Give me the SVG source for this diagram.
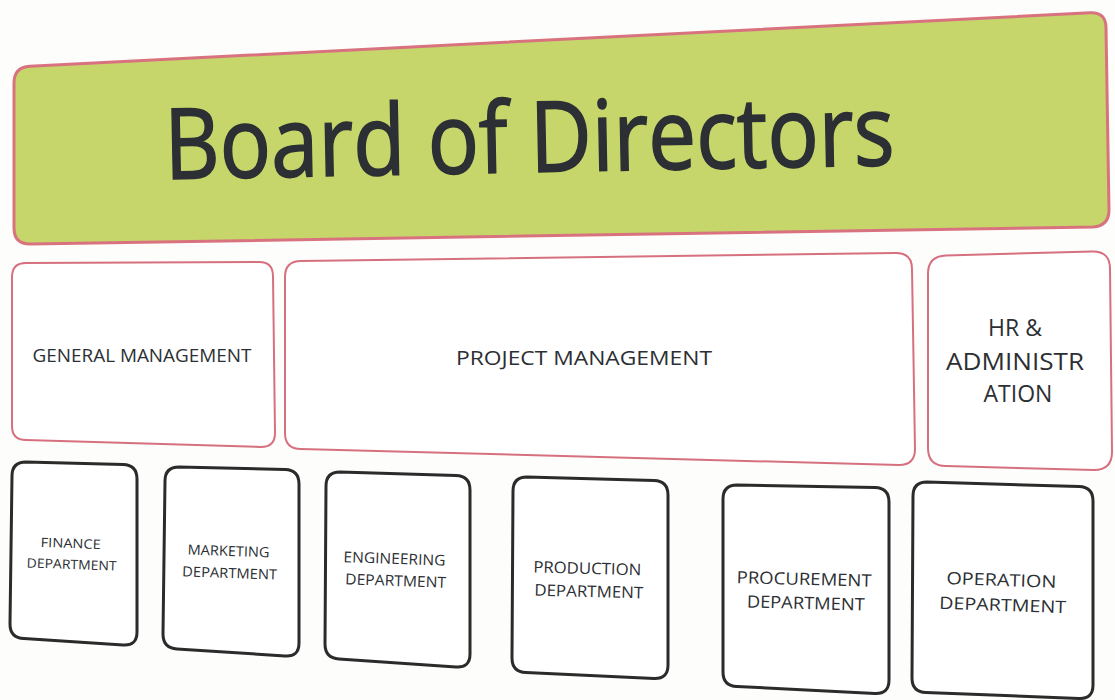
<svg xmlns="http://www.w3.org/2000/svg" width="1115" height="700" viewBox="0 0 1115 700">
<defs>
<style>
.bg{fill:#fdfdfc}
.board{fill:#c6d66b;stroke:#d9727f;stroke-width:3}
.mgmt{fill:#ffffff;stroke:#d7707e;stroke-width:2}
.dept{fill:#ffffff;stroke:#2b2b2b;stroke-width:3}
.t{font-family:"Open Sans","Liberation Sans",sans-serif;fill:#2c2f33;text-anchor:middle}
.title{stroke:#2c2f33;stroke-width:1.6}
</style>
</defs>
<rect class="bg" x="0" y="0" width="1115" height="700"/>
<g id="board">
<path class="board" d="M30,66.2 L1090,12.8 Q1106,12 1106,28 L1109,210 Q1109,226 1093,227 L30,244 Q14,244 14,228 L14,83 Q14,67 30,66.2 Z"/>
<text class="t title" x="530" y="172" font-size="98" textLength="730" lengthAdjust="spacingAndGlyphs" transform="rotate(-1.1 530 172)">Board of Directors</text>
</g>
<g id="general-management">
<path class="mgmt" d="M26,263 L259,262 Q273,262 273,276 L275,433 Q275,447 261,447 L26,440 Q12,440 12,426 L12,277 Q12,263 26,263 Z"/>
<text class="t" x="142" y="362" font-size="18" textLength="219" lengthAdjust="spacingAndGlyphs">GENERAL MANAGEMENT</text>
</g>
<g id="project-management">
<path class="mgmt" d="M301,261 L896,253 Q912,253 912,269 L915,449 Q915,465 899,465 L301,449 Q285,449 285,433 L285,277 Q285,261 301,261 Z"/>
<text class="t" x="584" y="365" font-size="20" textLength="256" lengthAdjust="spacingAndGlyphs">PROJECT MANAGEMENT</text>
</g>
<g id="hr-administration">
<path class="mgmt" d="M946,255.5 L1092,251.5 Q1110,251 1110,269 L1112,452 Q1112,470 1094,470 L946,466 Q928,466 928,448 L928,274 Q928,256 946,255.5 Z"/>
<text class="t" font-size="23">
<tspan x="1018" y="336">HR &amp;</tspan>
<tspan x="1018" y="370" textLength="138" lengthAdjust="spacingAndGlyphs">ADMINISTR</tspan>
<tspan x="1018" y="402">ATION</tspan>
</text>
</g>
<g id="finance">
<path class="dept" d="M26,462 L123,464.5 Q137,465 137,479 L137,632 Q137,646 123,645 L24,638.5 Q10,638 10,624 L12,476 Q12,462 26,462 Z"/>
<text class="t" font-size="13" transform="rotate(2 72 556)">
<tspan x="72" y="548" textLength="60" lengthAdjust="spacingAndGlyphs">FINANCE</tspan>
<tspan x="72" y="569" textLength="90" lengthAdjust="spacingAndGlyphs">DEPARTMENT</tspan>
</text>
</g>
<g id="marketing">
<path class="dept" d="M179,467 L285,469.5 Q299,470 299,484 L299,643 Q299,657 285,656 L177,649 Q163,648 163,634 L165,481 Q165,467 179,467 Z"/>
<text class="t" font-size="14" transform="rotate(2 230 564)">
<tspan x="230" y="556" textLength="82" lengthAdjust="spacingAndGlyphs">MARKETING</tspan>
<tspan x="230" y="578" textLength="95" lengthAdjust="spacingAndGlyphs">DEPARTMENT</tspan>
</text>
</g>
<g id="engineering">
<path class="dept" d="M340,472 L456,475.5 Q470,476 470,490 L470,654 Q470,668 456,667 L339,659 Q325,658 325,644 L326,486 Q326,472 340,472 Z"/>
<text class="t" font-size="15" transform="rotate(2 396 572)">
<tspan x="396" y="564" textLength="102" lengthAdjust="spacingAndGlyphs">ENGINEERING</tspan>
<tspan x="396" y="586" textLength="101" lengthAdjust="spacingAndGlyphs">DEPARTMENT</tspan>
</text>
</g>
<g id="production">
<path class="dept" d="M527,477 L654,480.5 Q668,481 668,495 L668,665 Q668,679 654,678.5 L526,672.5 Q512,672 512,658 L513,491 Q513,477 527,477 Z"/>
<text class="t" font-size="16" transform="rotate(1.5 589 582)">
<tspan x="589" y="574" textLength="108" lengthAdjust="spacingAndGlyphs">PRODUCTION</tspan>
<tspan x="589" y="597" textLength="109" lengthAdjust="spacingAndGlyphs">DEPARTMENT</tspan>
</text>
</g>
<g id="procurement">
<path class="dept" d="M737,485 L875,487.5 Q889,488 889,502 L889,680 Q889,694 875,693.5 L737,686.5 Q723,686 723,672 L723,499 Q723,485 737,485 Z"/>
<text class="t" font-size="17" transform="rotate(1.5 806 594)">
<tspan x="806" y="585" textLength="135" lengthAdjust="spacingAndGlyphs">PROCUREMENT</tspan>
<tspan x="806" y="609" textLength="118" lengthAdjust="spacingAndGlyphs">DEPARTMENT</tspan>
</text>
</g>
<g id="operation">
<path class="dept" d="M927,482 L1079,486.5 Q1093,487 1093,501 L1093,685 Q1093,699 1079,698.5 L926,692.5 Q912,692 912,678 L913,496 Q913,482 927,482 Z"/>
<text class="t" font-size="17" transform="rotate(2 1003 596)">
<tspan x="1003" y="586" textLength="110" lengthAdjust="spacingAndGlyphs">OPERATION</tspan>
<tspan x="1003" y="611" textLength="127" lengthAdjust="spacingAndGlyphs">DEPARTMENT</tspan>
</text>
</g>
<g id="connectors"></g>
</svg>
